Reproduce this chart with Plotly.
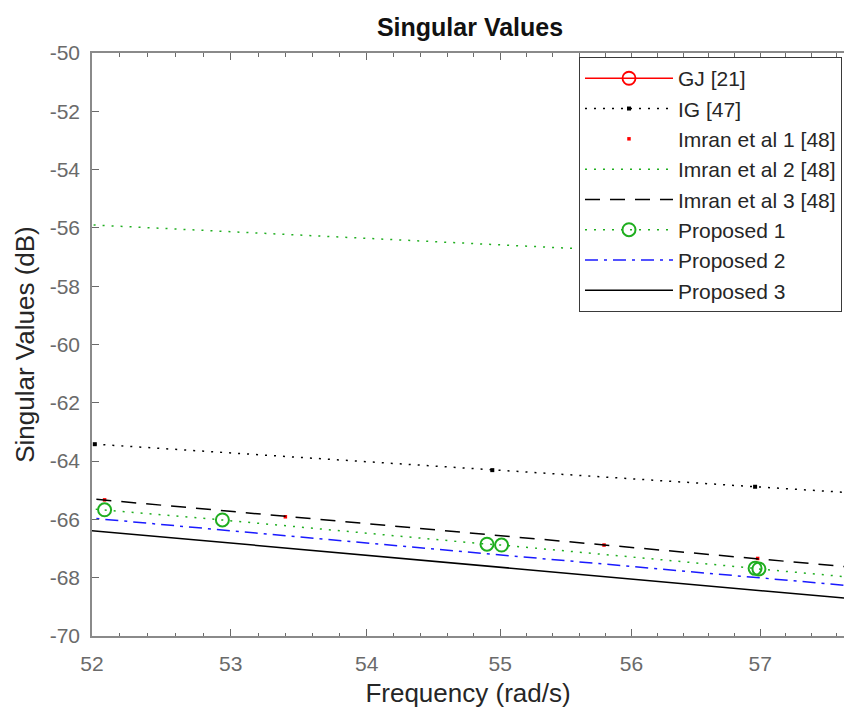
import math
import plotly.graph_objects as go

# Singular value responses (dB) against frequency (rad/s), one array pair per model
gj_freq = [None]
gj_db = [None]

ig_freq = [51.0, 52.02, 54.94, 56.96, 58.4]
ig_db = [-63.10, -63.42, -64.31, -64.88, -65.27]

imran1_freq = [52.09, 53.40, 55.79, 56.98]
imran1_db = [-65.33, -65.91, -66.88, -67.34]

imran2_freq = [51.5, 53.5, 55.5, 58.0]
imran2_db = [-55.78, -56.25, -56.70, -57.23]

imran3_freq = [51.5, 53.4, 55.8, 58.0]
imran3_db = [-65.08, -65.90, -66.88, -67.75]

prop1_freq = [51.2, 52.09, 52.94, 54.90, 55.01, 56.96, 56.99, 58.4]
prop1_db = [-65.31, -65.67, -66.02, -66.85, -66.88, -67.68, -67.70, -68.25]

prop2_freq = [51.5, 54.24, 58.0]
prop2_db = [-65.74, -66.91, -68.39]

prop3_freq = [51.5, 54.24, 58.0]
prop3_db = [-66.17, -67.32, -68.83]

x_tick_vals = [52, 53, 54, 55, 56, 57]
x_tick_text = ["52", "53", "54", "55", "56", "57"]
y_tick_vals = [-70, -68, -66, -64, -62, -60, -58, -56, -54, -52, -50]
y_tick_text = ["-70", "-68", "-66", "-64", "-62", "-60", "-58", "-56", "-54", "-52", "-50"]
x_range = [52.0, 57.66]
y_range = [-70, -50]

# minor ticks every 0.2 rad/s between the labelled ones
x_minor_vals = [round(52 + 0.2 * k, 1) for k in range(1, 29) if k % 5 != 0]

FONT = "Liberation Sans, Arial, Helvetica, sans-serif"
GREEN = "#1fae1f"
RED = "#ff0000"
BLUE = "#1a1aff"
BLACK = "#000000"
DOT = "2px,7px"

fig = go.Figure()

fig.add_trace(go.Scatter(
    x=gj_freq, y=gj_db, name="GJ [21]", mode="lines+markers", legendgroup="g1",
    line=dict(color=RED, width=1.5),
    marker=dict(symbol="circle-open", size=13, color=RED, line=dict(width=1.8)),
))
fig.add_trace(go.Scatter(
    x=ig_freq, y=ig_db, name="IG [47]", mode="lines+markers", legendgroup="g2",
    line=dict(color=BLACK, width=1.5, dash=DOT),
    marker=dict(symbol="square", size=4, color=BLACK),
))
fig.add_trace(go.Scatter(
    x=imran1_freq, y=imran1_db, name="Imran et al 1 [48]", mode="markers", legendgroup="g3",
    marker=dict(symbol="square", size=3.5, color=RED),
))
fig.add_trace(go.Scatter(
    x=imran2_freq, y=imran2_db, name="Imran et al 2 [48]", mode="lines", legendgroup="g4",
    line=dict(color=GREEN, width=1.5, dash=DOT),
))
fig.add_trace(go.Scatter(
    x=imran3_freq, y=imran3_db, name="Imran et al 3 [48]", mode="lines", legendgroup="g5",
    line=dict(color=BLACK, width=1.5, dash="15px,10px"),
))
fig.add_trace(go.Scatter(
    x=prop1_freq, y=prop1_db, name="Proposed 1", mode="lines+markers", legendgroup="g6",
    line=dict(color=GREEN, width=1.5, dash=DOT),
    marker=dict(symbol="circle-open", size=13, color=GREEN, line=dict(width=2)),
))
fig.add_trace(go.Scatter(
    x=prop2_freq, y=prop2_db, name="Proposed 2", mode="lines", legendgroup="g7",
    line=dict(color=BLUE, width=1.5, dash="13px,6px,3px,6px"),
))
fig.add_trace(go.Scatter(
    x=prop3_freq, y=prop3_db, name="Proposed 3", mode="lines", legendgroup="g8",
    line=dict(color=BLACK, width=1.5),
))

# empty traces so the tick-only overlay axes get drawn
for ax_name in ("x2", "x3"):
    fig.add_trace(go.Scatter(x=[None], y=[None], xaxis=ax_name, yaxis="y",
                             showlegend=False, hoverinfo="skip", mode="lines"))

AXIS_COLOR = "#8a8a8a"
TICK_COLOR = "#6a6a6a"
TICK_FONT = dict(family=FONT, size=21, color="#6a6a6a")
LOG_RANGE = [math.log10(x_range[0]), math.log10(x_range[1])]

# tick-only overlay axes carrying the minor frequency ticks, bottom and top
minor_axis = dict(
    type="log", range=LOG_RANGE, matches="x", overlaying="x",
    tickmode="array", tickvals=x_minor_vals, showticklabels=False,
    ticks="inside", ticklen=3.5, tickwidth=1, tickcolor=TICK_COLOR,
    showline=False, showgrid=False, zeroline=False,
)

fig.update_layout(
    width=844, height=715,
    margin=dict(l=92, r=0, t=53, b=79, pad=0),
    paper_bgcolor="white", plot_bgcolor="white",
    font=dict(family=FONT, color="#262626"),
    title=dict(
        text="<b>Singular Values</b>", font=dict(family=FONT, size=25, color="#111111"),
        xref="paper", x=0.5027, xanchor="center",
        yref="container", y=1 - 27 / 715, yanchor="middle",
    ),
    showlegend=True,
    legend=dict(
        x=0.6476, y=0.993, xanchor="left", yanchor="top",
        bgcolor="white", bordercolor="#3a3a3a", borderwidth=1,
        font=dict(family=FONT, size=21, color="#262626"),
        itemwidth=88, tracegroupgap=0, traceorder="normal",
    ),
    xaxis=dict(
        type="log", range=LOG_RANGE,
        tickmode="array", tickvals=x_tick_vals, ticktext=x_tick_text,
        ticks="inside", ticklen=7, tickwidth=1, tickcolor=TICK_COLOR,
        showline=True, linecolor=AXIS_COLOR, linewidth=1.5, mirror="ticks",
        showgrid=False, zeroline=False,
        tickfont=TICK_FONT, ticklabelstandoff=8,
        title=dict(text="Frequency (rad/s)", font=dict(family=FONT, size=26, color="#262626"),
                   standoff=10),
    ),
    xaxis2=dict(minor_axis, side="bottom"),
    xaxis3=dict(minor_axis, side="top"),
    yaxis=dict(
        range=y_range, tickmode="array", tickvals=y_tick_vals, ticktext=y_tick_text,
        ticks="inside", ticklen=7, tickwidth=1, tickcolor=TICK_COLOR,
        showline=True, linecolor=AXIS_COLOR, linewidth=1.5, mirror=False,
        showgrid=False, zeroline=False,
        tickfont=TICK_FONT, ticklabelstandoff=6,
        title=dict(text="Singular Values (dB)", font=dict(family=FONT, size=26, color="#262626"),
                   standoff=8),
    ),
)

fig.write_html("out.html")
